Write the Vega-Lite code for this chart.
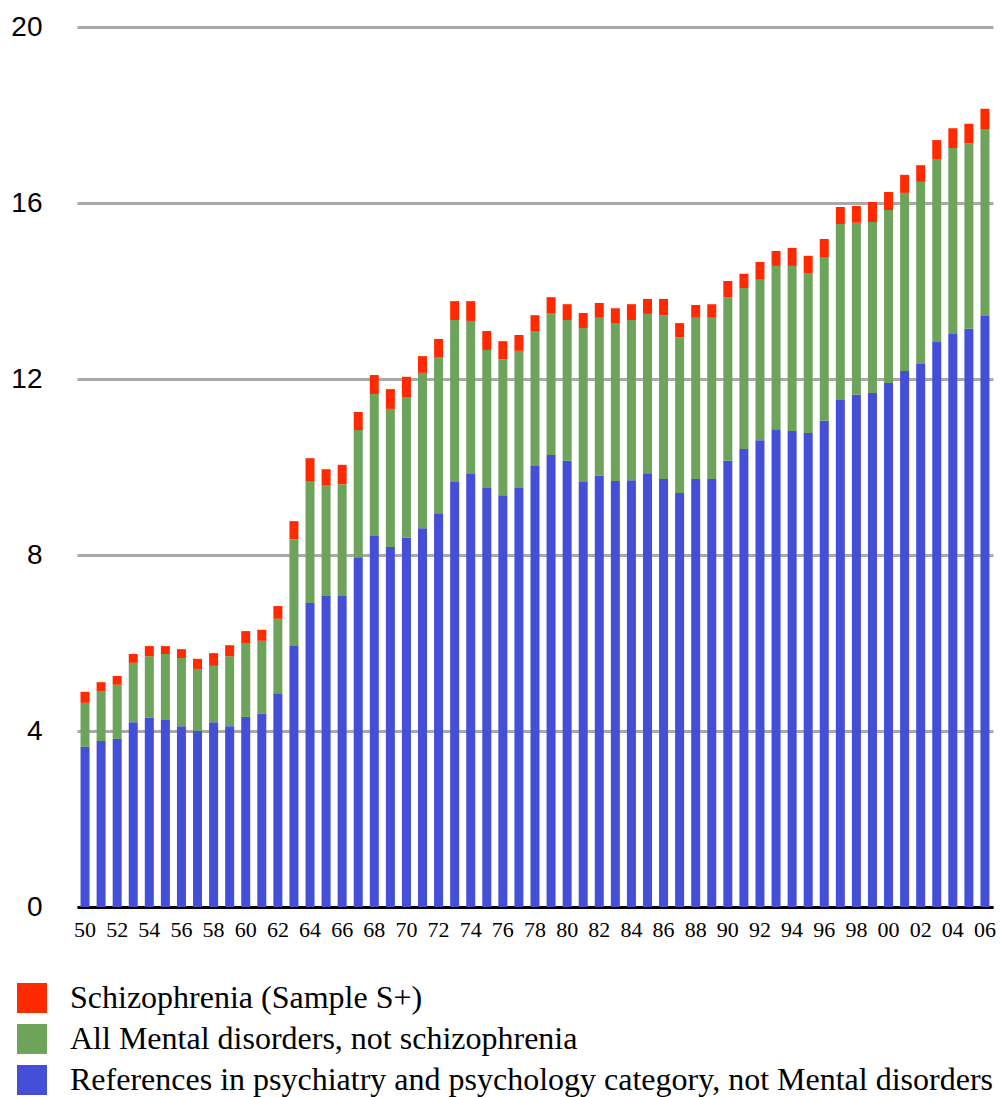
{
  "$schema": "https://vega.github.io/schema/vega-lite/v6.json",
  "width": 916,
  "height": 880,
  "autosize": "none",
  "padding": {"left": 77, "top": 27, "right": 7, "bottom": 190},
  "background": "white",
  "config": {"view": {"stroke": null}},
  "data": {
    "values": [
      {"year": 1950, "B": 3.64, "G": 1.00, "R": 0.25},
      {"year": 1951, "B": 3.77, "G": 1.14, "R": 0.20},
      {"year": 1952, "B": 3.82, "G": 1.23, "R": 0.20},
      {"year": 1953, "B": 4.20, "G": 1.35, "R": 0.20},
      {"year": 1954, "B": 4.30, "G": 1.40, "R": 0.23},
      {"year": 1955, "B": 4.25, "G": 1.50, "R": 0.18},
      {"year": 1956, "B": 4.11, "G": 1.55, "R": 0.20},
      {"year": 1957, "B": 4.00, "G": 1.41, "R": 0.23},
      {"year": 1958, "B": 4.20, "G": 1.28, "R": 0.29},
      {"year": 1959, "B": 4.11, "G": 1.59, "R": 0.25},
      {"year": 1960, "B": 4.32, "G": 1.68, "R": 0.27},
      {"year": 1961, "B": 4.39, "G": 1.66, "R": 0.25},
      {"year": 1962, "B": 4.86, "G": 1.69, "R": 0.29},
      {"year": 1963, "B": 5.93, "G": 2.43, "R": 0.41},
      {"year": 1964, "B": 6.91, "G": 2.77, "R": 0.52},
      {"year": 1965, "B": 7.07, "G": 2.52, "R": 0.36},
      {"year": 1966, "B": 7.07, "G": 2.54, "R": 0.44},
      {"year": 1967, "B": 7.95, "G": 2.89, "R": 0.41},
      {"year": 1968, "B": 8.43, "G": 3.23, "R": 0.43},
      {"year": 1969, "B": 8.18, "G": 3.14, "R": 0.45},
      {"year": 1970, "B": 8.39, "G": 3.20, "R": 0.46},
      {"year": 1971, "B": 8.61, "G": 3.53, "R": 0.38},
      {"year": 1972, "B": 8.95, "G": 3.55, "R": 0.41},
      {"year": 1973, "B": 9.66, "G": 3.68, "R": 0.43},
      {"year": 1974, "B": 9.84, "G": 3.48, "R": 0.45},
      {"year": 1975, "B": 9.52, "G": 3.14, "R": 0.43},
      {"year": 1976, "B": 9.36, "G": 3.09, "R": 0.41},
      {"year": 1977, "B": 9.52, "G": 3.12, "R": 0.36},
      {"year": 1978, "B": 10.02, "G": 3.07, "R": 0.36},
      {"year": 1979, "B": 10.27, "G": 3.23, "R": 0.36},
      {"year": 1980, "B": 10.14, "G": 3.20, "R": 0.36},
      {"year": 1981, "B": 9.66, "G": 3.50, "R": 0.34},
      {"year": 1982, "B": 9.80, "G": 3.59, "R": 0.34},
      {"year": 1983, "B": 9.68, "G": 3.59, "R": 0.34},
      {"year": 1984, "B": 9.70, "G": 3.64, "R": 0.36},
      {"year": 1985, "B": 9.86, "G": 3.62, "R": 0.34},
      {"year": 1986, "B": 9.73, "G": 3.72, "R": 0.37},
      {"year": 1987, "B": 9.41, "G": 3.54, "R": 0.32},
      {"year": 1988, "B": 9.73, "G": 3.66, "R": 0.29},
      {"year": 1989, "B": 9.73, "G": 3.66, "R": 0.31},
      {"year": 1990, "B": 10.14, "G": 3.72, "R": 0.37},
      {"year": 1991, "B": 10.41, "G": 3.66, "R": 0.32},
      {"year": 1992, "B": 10.61, "G": 3.66, "R": 0.39},
      {"year": 1993, "B": 10.86, "G": 3.71, "R": 0.34},
      {"year": 1994, "B": 10.82, "G": 3.75, "R": 0.41},
      {"year": 1995, "B": 10.77, "G": 3.64, "R": 0.39},
      {"year": 1996, "B": 11.05, "G": 3.72, "R": 0.41},
      {"year": 1997, "B": 11.52, "G": 4.00, "R": 0.39},
      {"year": 1998, "B": 11.64, "G": 3.91, "R": 0.38},
      {"year": 1999, "B": 11.68, "G": 3.89, "R": 0.45},
      {"year": 2000, "B": 11.91, "G": 3.93, "R": 0.41},
      {"year": 2001, "B": 12.18, "G": 4.05, "R": 0.41},
      {"year": 2002, "B": 12.34, "G": 4.14, "R": 0.38},
      {"year": 2003, "B": 12.84, "G": 4.16, "R": 0.43},
      {"year": 2004, "B": 13.02, "G": 4.23, "R": 0.45},
      {"year": 2005, "B": 13.14, "G": 4.22, "R": 0.44},
      {"year": 2006, "B": 13.43, "G": 4.25, "R": 0.46}
    ]
  },
  "transform": [{"fold": ["B", "G", "R"], "as": ["series", "value"]}],
  "mark": {"type": "bar"},
  "encoding": {
    "x": {
      "field": "year",
      "type": "ordinal",
      "scale": {"paddingInner": 0.44, "paddingOuter": 0.22},
      "axis": {
        "title": null,
        "values": [1950,1952,1954,1956,1958,1960,1962,1964,1966,1968,1970,1972,1974,1976,1978,1980,1982,1984,1986,1988,1990,1992,1994,1996,1998,2000,2002,2004,2006],
        "labelExpr": "substring(datum.label, 2, 4)",
        "labelAngle": 0,
        "labelFont": "Liberation Serif",
        "labelFontSize": 22,
        "labelColor": "black",
        "labelPadding": 12,
        "ticks": false,
        "domainColor": "black",
        "domainWidth": 3,
        "grid": false
      }
    },
    "y": {
      "field": "value",
      "type": "quantitative",
      "stack": "zero",
      "scale": {"domain": [0, 20], "nice": false},
      "axis": {
        "title": null,
        "values": [0, 4, 8, 12, 16, 20],
        "labelFont": "Liberation Sans",
        "labelFontSize": 28,
        "labelColor": "black",
        "labelPadding": 35,
        "ticks": false,
        "domain": false,
        "grid": true,
        "gridColor": "#a9a9a9",
        "gridWidth": 3
      }
    },
    "color": {
      "field": "series",
      "type": "nominal",
      "scale": {"domain": ["R", "G", "B"], "range": ["#ff2a00", "#6ea35c", "#444ed7"]},
      "legend": {
        "title": null,
        "orient": "none",
        "legendX": -61,
        "legendY": 955,
        "padding": 0,
        "symbolType": "square",
        "symbolSize": 900,
        "symbolStrokeWidth": 0,
        "symbolOpacity": 1,
        "labelFont": "Liberation Serif",
        "labelFontSize": 32,
        "labelColor": "black",
        "labelOffset": 22,
        "labelLimit": 0,
        "rowPadding": 9,
        "labelExpr": "datum.value == 'R' ? 'Schizophrenia (Sample S+)' : datum.value == 'G' ? 'All Mental disorders, not schizophrenia' : 'References in psychiatry and psychology category, not Mental disorders'"
      }
    },
    "order": {"field": "series", "sort": "ascending"}
  }
}
